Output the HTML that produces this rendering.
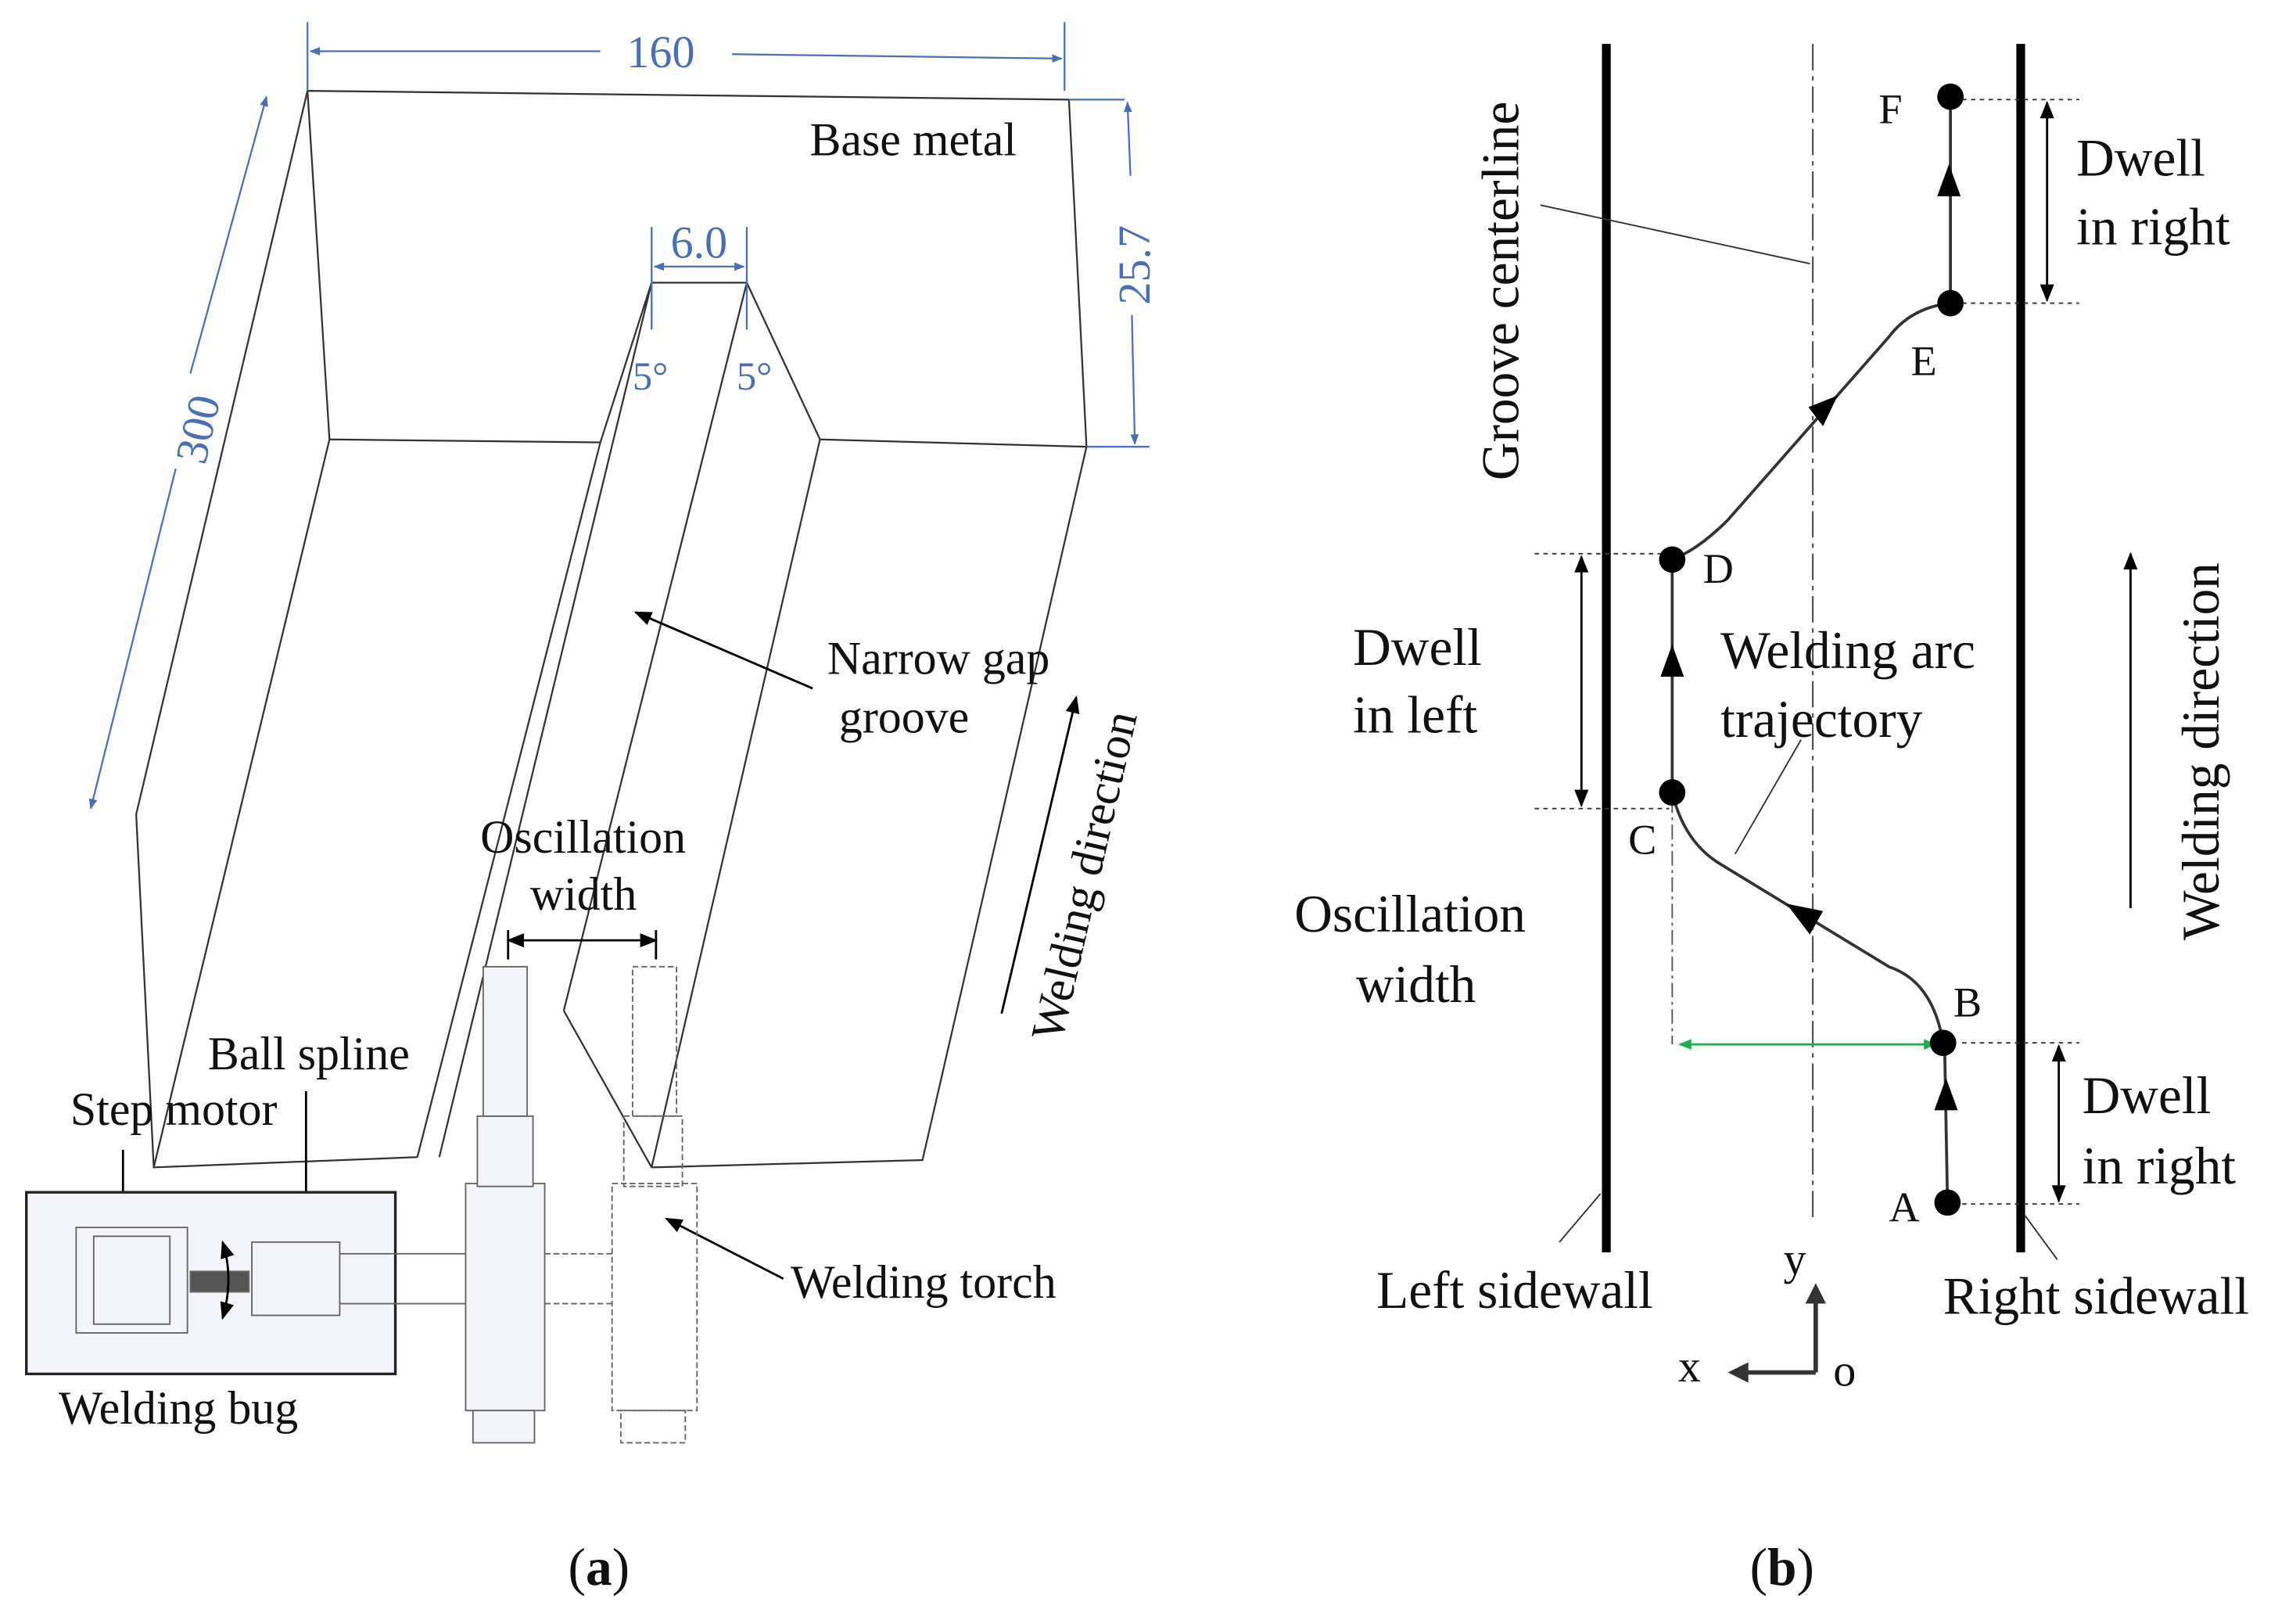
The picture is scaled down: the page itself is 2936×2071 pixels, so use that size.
<!DOCTYPE html>
<html><head><style>html,body{margin:0;padding:0;background:#fff}svg{display:block}</style></head>
<body>
<svg width="2936" height="2071" viewBox="0 0 1568 1106" preserveAspectRatio="none" xmlns="http://www.w3.org/2000/svg" font-family="Liberation Serif, serif">
<defs>
<marker id="ah" viewBox="0 0 10 10" refX="9" refY="5" markerWidth="8" markerHeight="8" orient="auto-start-reverse"><path d="M0,1 L10,5 L0,9 z" fill="#000"/></marker>
<marker id="bh" viewBox="0 0 10 10" refX="9" refY="5" markerWidth="6" markerHeight="6" orient="auto-start-reverse"><path d="M0,1 L10,5 L0,9 z" fill="#4a6fb5"/></marker>
<marker id="gh" viewBox="0 0 10 10" refX="9" refY="5" markerWidth="6" markerHeight="6" orient="auto-start-reverse"><path d="M0,1 L10,5 L0,9 z" fill="#1fae4a"/></marker>
</defs>
<rect x="38" y="45" width="714" height="955" fill="#fefefe"/>
<g fill="none" stroke="#333" stroke-width="1.2">
<path d="M210,62 L730,68 L742,305 L630,792 L445,797 M210,62 L93,556 L105,797 L285,790"/>
<path d="M210,62 L225,300 L105,797"/>
<path d="M225,300 L410,302 M445,193 L510,193 M445,193 L410,302 L285,790 M445,193 L300,790"/>
<path d="M510,193 L385,690 M510,193 L560,300 L742,305 M560,300 L445,797 M385,690 L445,797"/>
</g>
<g stroke="#4a6fb5" stroke-width="1.2" fill="none">
<line x1="210" y1="15" x2="210" y2="62"/><line x1="727" y1="15" x2="727" y2="62"/>
<line x1="212" y1="35" x2="410" y2="35" marker-start="url(#bh)"/><line x1="500" y1="37" x2="725" y2="40" marker-end="url(#bh)"/>
<line x1="730" y1="68" x2="768" y2="68"/><line x1="742" y1="305" x2="785" y2="305"/>
<line x1="770" y1="70" x2="772" y2="120" marker-start="url(#bh)"/><line x1="773" y1="215" x2="775" y2="303" marker-end="url(#bh)"/>
<line x1="182" y1="66" x2="130" y2="255" marker-start="url(#bh)"/><line x1="120" y1="320" x2="62" y2="552" marker-end="url(#bh)"/>
<line x1="445" y1="155" x2="445" y2="225"/><line x1="510" y1="155" x2="510" y2="225"/>
<line x1="447" y1="182" x2="508" y2="182" marker-start="url(#bh)" marker-end="url(#bh)"/>
</g>
<g fill="#4a6fb5" font-size="31">
<text x="428" y="46">160</text>
<text x="458" y="176">6.0</text>
<text x="432" y="266" font-size="27">5°</text>
<text x="503" y="266" font-size="27">5°</text>
<text transform="translate(785,208) rotate(-90)">25.7</text>
<text transform="translate(140,318) rotate(-77)">300</text>
</g>
<g font-size="32" fill="#111">
<text x="553" y="106">Base metal</text>
<text x="565" y="460">Narrow gap</text>
<text x="573" y="500">groove</text>
<text x="328" y="582">Oscillation</text>
<text x="362" y="621">width</text>
<text x="142" y="730">Ball spline</text>
<text x="48" y="768">Step motor</text>
<text x="540" y="886">Welding torch</text>
<text x="40" y="972">Welding bug</text>
<text transform="translate(725,712) rotate(-77)">Welding direction</text>
</g>
<g stroke="#000" stroke-width="1.5" fill="none">
<line x1="555" y1="470" x2="434" y2="418" marker-end="url(#ah)"/>
<line x1="684" y1="692" x2="735" y2="476" marker-end="url(#ah)"/>
<line x1="347" y1="642" x2="448" y2="642" marker-start="url(#ah)" marker-end="url(#ah)"/>
<line x1="347" y1="635" x2="347" y2="655"/><line x1="448" y1="635" x2="448" y2="655"/>
<line x1="84" y1="785" x2="84" y2="832" marker-end="url(#ah)"/>
<line x1="209" y1="745" x2="209" y2="840" marker-end="url(#ah)"/>
<line x1="535" y1="873" x2="455" y2="832" marker-end="url(#ah)"/>
</g>
<rect x="18" y="814" width="252" height="124" fill="#f4f5fb" stroke="#222" stroke-width="1.8"/>
<g stroke="#666" fill="#f4f5fb" stroke-width="1">
<rect x="52" y="838" width="76" height="72"/><rect x="64" y="844" width="52" height="60"/>
<rect x="130" y="868" width="40" height="14" fill="#555"/>
<rect x="172" y="848" width="60" height="50"/>
<line x1="232" y1="856" x2="320" y2="856"/><line x1="232" y1="890" x2="320" y2="890"/>
<rect x="318" y="808" width="54" height="155"/><rect x="326" y="762" width="38" height="48"/>
<rect x="330" y="660" width="30" height="102"/><rect x="323" y="963" width="42" height="22"/>
</g>
<g stroke="#666" fill="none" stroke-width="1" stroke-dasharray="4,2">
<line x1="372" y1="856" x2="418" y2="856"/><line x1="372" y1="890" x2="418" y2="890"/>
<rect x="418" y="808" width="58" height="155"/><rect x="426" y="762" width="40" height="48"/>
<rect x="432" y="660" width="30" height="102"/><rect x="424" y="963" width="44" height="22"/>
</g>
<path d="M152,848 Q160,873 152,900" stroke="#000" stroke-width="1.5" fill="none" marker-start="url(#ah)" marker-end="url(#ah)"/>
<g stroke="#000">
<line x1="1097" y1="30" x2="1097" y2="855" stroke-width="6"/>
<line x1="1380" y1="30" x2="1380" y2="855" stroke-width="6"/>
<line x1="1238" y1="30" x2="1238" y2="835" stroke-width="1.2" stroke="#555" stroke-dasharray="18,4,3,4"/>
<line x1="1142" y1="545" x2="1142" y2="713" stroke-width="1" stroke="#555" stroke-dasharray="10,3,2,3"/>
</g>
<g stroke="#333" stroke-width="1" stroke-dasharray="3,3">
<line x1="1340" y1="68" x2="1420" y2="68"/><line x1="1340" y1="207" x2="1420" y2="207"/>
<line x1="1048" y1="378" x2="1140" y2="378"/><line x1="1048" y1="552" x2="1140" y2="552"/>
<line x1="1340" y1="712" x2="1420" y2="712"/><line x1="1340" y1="822" x2="1420" y2="822"/>
</g>
<g stroke="#000" stroke-width="1.5" fill="none">
<line x1="1398" y1="70" x2="1398" y2="205" marker-start="url(#ah)" marker-end="url(#ah)"/>
<line x1="1080" y1="380" x2="1080" y2="550" marker-start="url(#ah)" marker-end="url(#ah)"/>
<line x1="1406" y1="714" x2="1406" y2="820" marker-start="url(#ah)" marker-end="url(#ah)"/>
</g>
<line x1="1147" y1="713" x2="1322" y2="713" stroke="#1fae4a" stroke-width="1.5" marker-start="url(#gh)" marker-end="url(#gh)"/>
<g stroke="#333" stroke-width="2" fill="none">
<line x1="1330" y1="821" x2="1328" y2="712"/>
<path d="M1327,712 Q1320,670 1290,660 L1175,590 Q1150,575 1142,541"/>
<line x1="1142" y1="541" x2="1142" y2="382"/>
<path d="M1142,382 Q1160,375 1180,355 L1290,230 Q1305,210 1332,207"/>
<line x1="1332" y1="207" x2="1332" y2="66"/>
</g>
<g fill="#000">
<circle cx="1332" cy="66" r="9"/><circle cx="1332" cy="207" r="9"/><circle cx="1142" cy="382" r="9"/>
<circle cx="1142" cy="541" r="9"/><circle cx="1327" cy="712" r="9"/><circle cx="1330" cy="821" r="9"/>
<path d="M1331,112 l-8,22 h16 z"/><path d="M1142,440 l-8,22 h16 z"/><path d="M1329,736 l-8,22 h16 z"/>
<path d="M1255,270 l-20,8 l10,13 z"/><path d="M1220,617 l25,5 l-9,16 z"/>
</g>
<g stroke="#333" stroke-width="1" fill="none">
<line x1="1052" y1="140" x2="1236" y2="180"/>
<line x1="1230" y1="505" x2="1185" y2="583"/>
<line x1="1093" y1="815" x2="1065" y2="848"/>
<line x1="1383" y1="830" x2="1405" y2="860"/>
</g>
<g stroke="#333" stroke-width="3" fill="none">
<line x1="1240" y1="937" x2="1240" y2="885"/>
<line x1="1240" y1="937" x2="1190" y2="937"/>
</g>
<path d="M1240,876 l-7,14 h14 z M1180,937 l14,-7 v14 z" fill="#333"/>
<g font-size="36" fill="#111">
<text x="1283" y="84" font-size="29">F</text>
<text x="1305" y="256" font-size="29">E</text>
<text x="1163" y="398" font-size="29">D</text>
<text x="1112" y="583" font-size="29">C</text>
<text x="1334" y="694" font-size="29">B</text>
<text x="1290" y="834" font-size="29">A</text>
<text x="1418" y="120">Dwell</text><text x="1418" y="167">in right</text>
<text x="924" y="454">Dwell</text><text x="924" y="500">in left</text>
<text x="1175" y="456">Welding arc</text><text x="1175" y="503">trajectory</text>
<text x="884" y="636">Oscillation</text><text x="926" y="684">width</text>
<text x="1422" y="760">Dwell</text><text x="1422" y="808">in right</text>
<text x="940" y="893">Left sidewall</text>
<text x="1327" y="897">Right sidewall</text>
<text x="1218" y="870" font-size="31">y</text>
<text x="1146" y="943" font-size="31">x</text>
<text x="1252" y="946" font-size="31">o</text>
<text transform="translate(1037,328) rotate(-90)">Groove centerline</text>
<text transform="translate(1515,642) rotate(-90)">Welding direction</text>
<text x="388" y="1082">(<tspan font-weight="bold">a</tspan>)</text>
<text x="1195" y="1082">(<tspan font-weight="bold">b</tspan>)</text>
</g>
<line x1="1455" y1="620" x2="1455" y2="378" stroke="#000" stroke-width="1.5" marker-end="url(#ah)"/>
</svg>
</body></html>
